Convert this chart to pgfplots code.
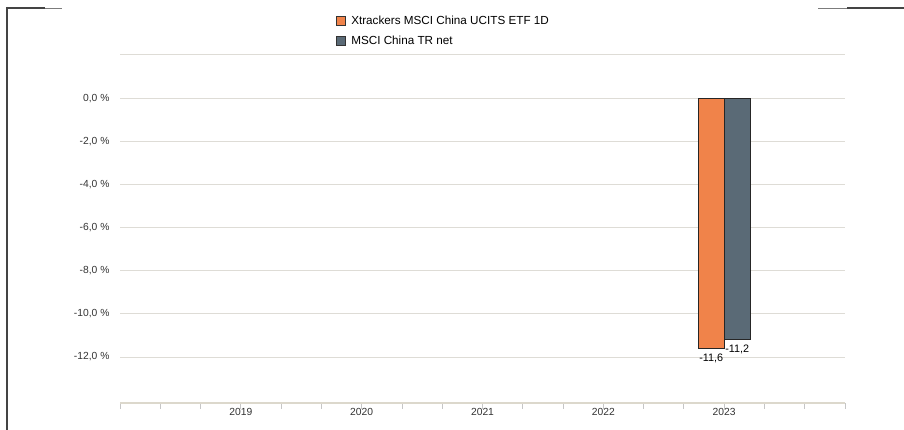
\documentclass[border=0pt]{standalone}
\usepackage{pgfplots}
\pgfplotsset{compat=1.18}
\usepackage{fontspec}
\setmainfont{Liberation Sans}
\definecolor{orangebar}{HTML}{F0834A}
\definecolor{graybar}{HTML}{5A6A76}
\definecolor{gridc}{HTML}{DEDCD6}
\definecolor{axisc}{HTML}{DCD8CC}
\definecolor{txt}{HTML}{333333}
\definecolor{frame}{HTML}{444444}
\begin{document}
\begin{tikzpicture}[x=1pt,y=1pt]
\useasboundingbox (0,0) rectangle (904,430);
% decorative frame
\draw[frame!70,line width=0.6pt] (7,422) -- (62,422);
\draw[frame!70,line width=0.6pt] (818,422) -- (904,422);
\draw[frame,line width=2pt] (7,422) -- (45,422);
\draw[frame,line width=2pt] (847,422) -- (904,422);
\draw[frame,line width=2pt] (7,423) -- (7,0);
\begin{axis}[
  at={(120pt,27pt)}, anchor=south west,
  width=725pt, height=348pt, scale only axis,
  xmin=0, xmax=6, ymin=-14.13, ymax=2,
  axis x line*=bottom, axis y line*=left,
  x axis line style={axisc, line width=2pt, -},
  y axis line style={draw=none},
  xtick={1,2,3,4,5},
  xticklabels={2019,2020,2021,2022,2023},
  minor xtick={0,0.33333,0.66667,1.33333,1.66667,2.33333,2.66667,3.33333,3.66667,4.33333,4.66667,5.33333,5.66667,6},
  tick align=outside,
  xtick style={gray!45, line width=0.8pt},
  major tick length=6pt, minor tick length=6pt,
  ytick={-12,-10,-8,-6,-4,-2,0,2},
  yticklabels={{-12,0 \%},{-10,0 \%},{-8,0 \%},{-6,0 \%},{-4,0 \%},{-2,0 \%},{0,0 \%},{}},
  ytick style={draw=none},
  ymajorgrids, major grid style={gridc, line width=1pt},
  tick label style={font=\fontsize{10.3}{12}\selectfont, text=txt},
  yticklabel style={xshift=-1pt},
  xticklabel style={yshift=4pt},
  /pgf/number format/assume math mode=true,
  ybar=0pt, bar width=26pt,
  nodes near coords={\pgfmathprintnumber[fixed,precision=1,use comma]{\pgfplotspointmeta}},
  nodes near coords style={font=\fontsize{10.8}{12}\selectfont, text=black, inner sep=2pt, yshift=-3pt},
  legend style={at={(0.2979,1.1178)}, anchor=north west, draw=none, fill=none,
    font=\fontsize{11.7}{13}\selectfont, text=black, row sep=7pt, inner sep=0pt,
    legend cell align=left, nodes={inner sep=1.5pt}},
  legend image code/.code={\draw[#1, draw=black!80, line width=0.6pt] (0pt,-4.5pt) rectangle (9pt,4.5pt); \path (13pt,0pt);},
  clip=false,
]
\addplot[fill=orangebar, draw=black!85, line width=0.6pt] coordinates {(5,-11.6)};
\addlegendentry{Xtrackers MSCI China UCITS ETF 1D}
\addplot[fill=graybar, draw=black!85, line width=0.6pt] coordinates {(5,-11.2)};
\addlegendentry{MSCI China TR net}
\end{axis}
\end{tikzpicture}
\end{document}
